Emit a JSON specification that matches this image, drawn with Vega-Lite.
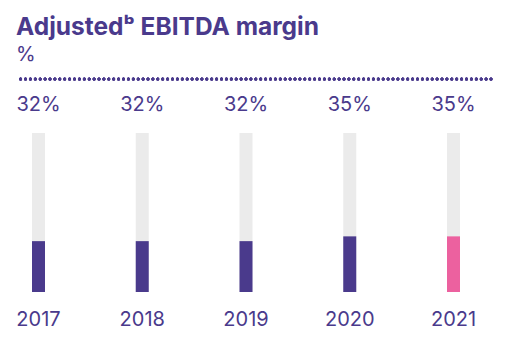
{
  "$schema": "https://vega.github.io/schema/vega-lite/v6.json",
  "width": 474,
  "height": 213,
  "padding": {"left": 15, "top": 15, "right": 21, "bottom": 5},
  "background": "white",
  "title": {
    "text": "Adjustedᵇ EBITDA margin",
    "subtitle": "%",
    "anchor": "start",
    "frame": "group",
    "dx": -1,
    "font": "Inter",
    "fontSize": 24.5,
    "fontWeight": "bold",
    "color": "#4A3A8C",
    "subtitleFont": "Inter",
    "subtitleFontSize": 20,
    "subtitleColor": "#4A3A8C",
    "subtitlePadding": 4,
    "offset": 12
  },
  "data": {
    "values": [
      {"year": "2017", "margin": 32, "label": "32%", "highlight": "past"},
      {"year": "2018", "margin": 32, "label": "32%", "highlight": "past"},
      {"year": "2019", "margin": 32, "label": "32%", "highlight": "past"},
      {"year": "2020", "margin": 35, "label": "35%", "highlight": "past"},
      {"year": "2021", "margin": 35, "label": "35%", "highlight": "current"}
    ]
  },
  "layer": [
    {
      "mark": {"type": "rule", "strokeDash": [0, 4.9], "strokeCap": "round", "strokeWidth": 3, "color": "#4A3A8C"},
      "encoding": {"y": {"datum": 134, "type": "quantitative", "scale": {"domain": [0, 134], "nice": false}, "axis": null}}
    },
    {
      "mark": {"type": "bar", "width": 13, "color": "#EBEBEB"},
      "encoding": {
        "x": {
          "field": "year",
          "type": "ordinal",
          "scale": {"type": "band", "range": [-30.4, 488.4], "paddingInner": 0, "paddingOuter": 0},
          "axis": {
            "title": null,
            "domain": false,
            "ticks": false,
            "labelAngle": 0,
            "labelFont": "Inter",
            "labelFontSize": 20,
            "labelColor": "#4A3A8C",
            "labelBaseline": "alphabetic",
            "labelPadding": 33
          }
        },
        "y": {"datum": 100, "type": "quantitative"},
        "y2": {"datum": 0}
      }
    },
    {
      "mark": {"type": "bar", "width": 13},
      "encoding": {
        "x": {"field": "year", "type": "ordinal"},
        "y": {"field": "margin", "type": "quantitative"},
        "color": {
          "field": "highlight",
          "type": "nominal",
          "scale": {"domain": ["past", "current"], "range": ["#4A3A8C", "#EC619F"]},
          "legend": null
        }
      }
    },
    {
      "mark": {"type": "text", "font": "Inter", "fontSize": 20, "color": "#4A3A8C", "baseline": "alphabetic", "dy": -22},
      "encoding": {
        "x": {"field": "year", "type": "ordinal"},
        "y": {"datum": 100, "type": "quantitative"},
        "text": {"field": "label"}
      }
    }
  ],
  "config": {"view": {"stroke": null}}
}
